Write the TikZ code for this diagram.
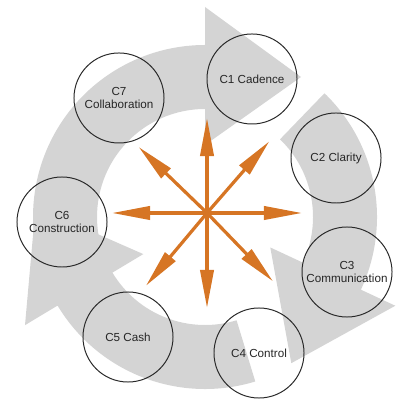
\documentclass[tikz,border=0pt]{standalone}
\usepackage{fontspec}
\setsansfont{Liberation Sans}
\usetikzlibrary{arrows.meta,calc}
\definecolor{ringgray}{RGB}{212,212,212}
\definecolor{spokeorange}{RGB}{214,117,36}
\definecolor{rimgray}{RGB}{40,40,40}
\begin{document}
\begin{tikzpicture}[x=0.025cm, y=0.025cm, font=\sffamily\fontsize{8.3}{9.4}\selectfont,
	cnode/.style={circle, draw=rimgray, line width=0.7pt, minimum size=2.25cm, inner sep=0pt, align=center, text=black!85},
	spoke/.style={draw=spokeorange, line width=2.3pt, -{Triangle[length=0.95cm, width=0.33cm]}}]
	\useasboundingbox (0,0) rectangle (400,406);
	%ring
	\coordinate (ctr) at (205,189);
	\foreach \a/\b in {200/90, 46/-25, -73/-149}
	\fill[ringgray] ($(ctr)+(\a:172)$) arc[start angle=\a, end angle=\b, radius=172]
	-- ($(ctr)+(\b:210)$) -- ($(ctr)+(\b:140)+({\b-90}:96)$)
	-- ($(ctr)+(\b:72)$) -- ($(ctr)+(\b:108)$)
	arc[start angle=\b, end angle=\a, radius=108] -- cycle;
	%circles
	\node[cnode] (c1) at (252,327) {C1 Cadence};
	\node[cnode] (c2) at (336,248) {C2 Clarity};
	\node[cnode] (c3) at (347,134) {C3\\Communication};
	\node[cnode] (c4) at (259,53) {C4 Control};
	\node[cnode] (c5) at (128,69) {C5 Cash};
	\node[cnode] (c6) at (62,184) {C6\\Construction};
	\node[cnode] (c7) at (119,308) {C7\\Collaboration};
	%spokes
	\coordinate (hub) at (207,193);
	\foreach \ang [count=\i] in {0,49,90,136,180,230,270,314}
	{
		\coordinate (s\i) at ($(hub)+(\ang:95)$);
		\draw[spoke] (hub) -- (s\i);
	}
\end{tikzpicture}
\end{document}
